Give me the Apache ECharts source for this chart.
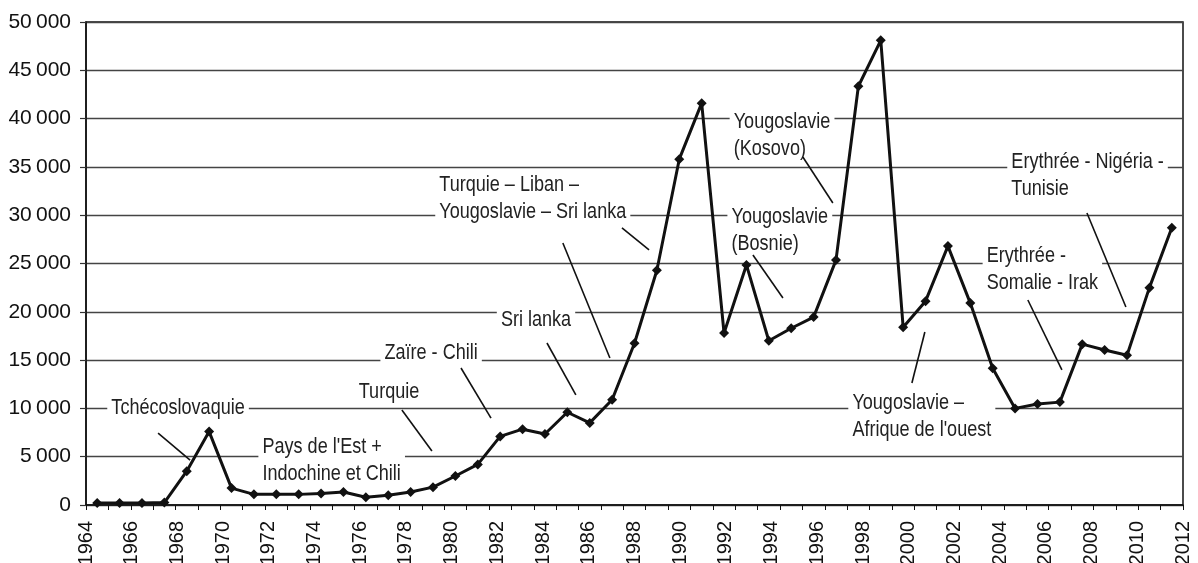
<!DOCTYPE html>
<html>
<head>
<meta charset="utf-8">
<script src="https://cdn.jsdelivr.net/npm/echarts@6/dist/echarts.min.js"></script>
<style>
  html, body { margin: 0; padding: 0; background: #fff; }
  #chart { width: 1198px; height: 563px; }
</style>
</head>
<body>
<div id="chart"></div>
<script>
// ---------- data ----------
const years = [
  1964, 1965, 1966, 1967, 1968, 1969, 1970, 1971, 1972, 1973,
  1974, 1975, 1976, 1977, 1978, 1979, 1980, 1981, 1982, 1983,
  1984, 1985, 1986, 1987, 1988, 1989, 1990, 1991, 1992, 1993,
  1994, 1995, 1996, 1997, 1998, 1999, 2000, 2001, 2002, 2003,
  2004, 2005, 2006, 2007, 2008, 2009, 2010, 2011, 2012
];

const requests = [
  200, 200, 200, 250, 3500, 7600, 1750, 1100, 1100, 1100,
  1200, 1350, 800, 1000, 1350, 1850, 3000, 4200, 7100, 7850,
  7350, 9600, 8500, 10900, 16750, 24300, 35800, 41600, 17800, 24850,
  17000, 18300, 19450, 25350, 43350, 48100, 18400, 21100, 26800, 20900,
  14150, 10000, 10450, 10650, 16650, 16050, 15500, 22500, 28700
];

const tickYears = [
  1964, 1966, 1968, 1970, 1972, 1974, 1976, 1978, 1980, 1982, 1984, 1986,
  1988, 1990, 1992, 1994, 1996, 1998, 2000, 2002, 2004, 2006, 2008, 2010, 2012
];

// notes: text, anchor (year, value) = left / vertical middle of the text
const noteTexts = [
  "Tchécoslovaquie",
  "Pays de l'Est +\nIndochine et Chili",
  "Turquie",
  "Zaïre - Chili",
  "Sri lanka",
  "Turquie – Liban –\nYougoslavie – Sri lanka",
  "Yougoslavie\n(Kosovo)",
  "Yougoslavie\n(Bosnie)",
  "Erythrée - Nigéria -\nTunisie",
  "Erythrée -\nSomalie - Irak",
  "Yougoslavie –\nAfrique de l'ouest"
];
const noteAnchors = [
  [1964.45, 10000], [1971.2, 4650], [1975.5, 11700], [1976.65, 15700],
  [1981.85, 19150], [1979.1, 31700], [1992.25, 38300], [1992.15, 28450],
  [2004.65, 34150], [2003.55, 24350], [1997.55, 9200]
];

// arrows: from -> to (year, value)
const arrows = [
  [[1966.72, 7450], [1968.15, 4650]],
  [[1977.61, 9830], [1978.95, 5590]],
  [[1980.25, 14180], [1981.59, 9000]],
  [[1984.09, 16770], [1985.38, 11390]],
  [[1987.44, 28680], [1988.65, 26400]],
  [[1984.80, 27120], [1986.90, 15220]],
  [[1995.52, 36020], [1996.86, 31260]],
  [[1993.29, 25880], [1994.63, 21430]],
  [[2008.21, 30230], [2009.95, 20500]],
  [[2005.57, 21220], [2007.09, 13980]],
  [[2000.39, 12630], [2000.97, 17910]]
];

// ---------- chart ----------
const FONT = '"Liberation Sans", Arial, sans-serif';
const X_MIN = years[0] - 0.5;
const X_MAX = years[years.length - 1] + 0.5;
const span = X_MAX - X_MIN;

// year labels are spread evenly over the full axis width
const labelPos = tickYears.map((y, i) => X_MIN + i * span / (tickYears.length - 1));
const tickPos = years.map(y => y - 0.5).concat([X_MAX]);

function fmtThousands(v) {
  if (v === 0) return "0";
  return String(v).replace(/(\d)(?=\d{3}$)/, "$1\u2009");
}

const chart = echarts.init(document.getElementById("chart"));

chart.setOption({
  animation: false,
  backgroundColor: "#fff",
  grid: {
    left: 86,
    right: 15,
    top: 22,
    bottom: 58,
    containLabel: false,
    outerBoundsMode: "none",
    show: true,
    borderColor: "#111",
    borderWidth: 1.5
  },
  xAxis: {
    type: "value",
    min: X_MIN,
    max: X_MAX,
    axisLine: { show: true, onZero: false, lineStyle: { color: "#111", width: 1.5 } },
    axisTick: {
      show: true,
      customValues: tickPos,
      length: 5,
      lineStyle: { color: "#111", width: 1 }
    },
    axisLabel: {
      customValues: labelPos,
      rotate: 90,
      margin: 16,
      fontFamily: FONT,
      fontSize: 20,
      color: "#111",
      formatter: v => {
        const i = Math.round((v - X_MIN) * (tickYears.length - 1) / span);
        return String(tickYears[i]);
      }
    },
    splitLine: { show: false }
  },
  yAxis: {
    type: "value",
    min: 0,
    max: 50000,
    interval: 5000,
    axisLine: { show: true, lineStyle: { color: "#111", width: 1.5 } },
    axisTick: { show: true, length: 6, lineStyle: { color: "#333", width: 1.2 } },
    axisLabel: {
      margin: 15,
      fontFamily: FONT,
      fontSize: 21,
      color: "#111",
      formatter: fmtThousands
    },
    splitLine: { show: true, lineStyle: { color: "#444", width: 1.4 } }
  },
  series: [{
    type: "line",
    data: years.map((y, i) => [y, requests[i]]),
    symbol: "diamond",
    symbolSize: 10,
    lineStyle: { color: "#111", width: 3 },
    itemStyle: { color: "#111" },
    z: 3,
    markLine: {
      silent: true,
      symbol: ["none", "arrow"],
      symbolSize: [0, 13],
      label: { show: false },
      lineStyle: { color: "#111", width: 1.6, type: "solid" },
      data: arrows.map(a => [{ coord: a[0] }, { coord: a[1] }])
    }
  }]
});

// annotation texts, narrowed like the printed condensed face
const noteEls = noteTexts.map((t, i) => {
  const p = chart.convertToPixel({ seriesIndex: 0 }, noteAnchors[i]);
  return {
    type: "text",
    x: p[0],
    y: p[1],
    scaleX: 0.82,
    z: 1,
    silent: true,
    style: {
      text: t,
      font: "22px " + FONT,
      fill: "#222",
      backgroundColor: "#fff",
      padding: [0, 5],
      lineHeight: 27,
      align: "left",
      verticalAlign: "middle",
      textAlign: "left",
      textVerticalAlign: "middle"
    }
  };
});

chart.setOption({ graphic: { elements: noteEls } });
</script>
</body>
</html>
